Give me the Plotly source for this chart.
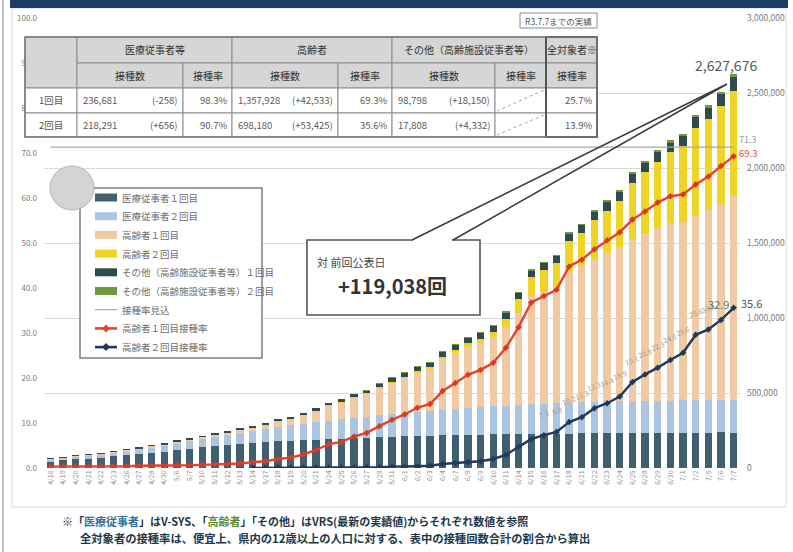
import plotly.graph_objects as go

W, H = 793, 552

# ---------------- data ----------------
dates = ["4/16", "4/19", "4/20", "4/21", "4/22", "4/23", "4/26", "4/27", "4/28", "4/30",
         "5/6", "5/7", "5/10", "5/11", "5/12", "5/13", "5/14", "5/17", "5/18", "5/19",
         "5/20", "5/21", "5/24", "5/25", "5/26", "5/27", "5/28", "5/31", "6/1", "6/2",
         "6/3", "6/4", "6/7", "6/8", "6/9", "6/10", "6/11", "6/14", "6/15", "6/16",
         "6/17", "6/18", "6/21", "6/22", "6/23", "6/24", "6/25", "6/28", "6/29", "6/30",
         "7/1", "7/2", "7/5", "7/6", "7/7"]

medical_1st = [45000, 52000, 58000, 63000, 68000, 78000, 86000, 92000, 103000, 110000,
               122000, 130000, 138000, 146000, 152000, 160000, 166000, 172000, 178000, 182000,
               187000, 190000, 193000, 196000, 199000, 202000, 205000, 208000, 211000, 213000,
               215000, 217000, 219000, 221000, 222000, 224000, 225000, 226000, 227000, 228000,
               229000, 230000, 231000, 232000, 232500, 233000, 233500, 234000, 234500, 235000,
               235500, 236000, 236400, 236939, 236681]
medical_2nd = [12000, 14000, 17000, 19000, 21000, 24000, 27000, 30000, 34000, 38000,
               44000, 50000, 56000, 62000, 68000, 75000, 80000, 88000, 96000, 102000,
               108000, 116000, 122000, 128000, 134000, 140000, 146000, 152000, 158000, 163000,
               168000, 172000, 176000, 180000, 184000, 188000, 191000, 194000, 197000, 200000,
               202000, 204000, 206000, 208000, 210000, 211000, 212000, 213000, 214000, 215000,
               216000, 216500, 217000, 217635, 218291]
elderly_1st = [5900, 5900, 6000, 7800, 7900, 8000, 8100, 9800, 9900, 10000,
               11800, 11900, 13700, 15700, 17600, 19600, 25500, 29400, 39200, 45100,
               58800, 78400, 103900, 113700, 137200, 152900, 182300, 209700, 233200, 262600,
               278300, 335100, 370400, 405700, 427200, 458600, 523300, 613400, 721200, 748600,
               776000, 878000, 907400, 952500, 991600, 1026900, 1081800, 1117100, 1156300, 1183700,
               1191500, 1234700, 1269900, 1315395, 1357928]
elderly_2nd = [0, 0, 0, 0, 0, 0, 0, 0, 0, 0,
               0, 0, 0, 0, 0, 0, 200, 400, 600, 1000,
               1400, 1900, 2000, 2100, 2900, 3800, 3900, 5800, 5900, 7800,
               9800, 17600, 21600, 25500, 29400, 39200, 56900, 92200, 125500, 143200,
               156900, 200000, 221600, 260800, 282400, 311800, 374600, 407900, 437300, 470600,
               502000, 580500, 604000, 644755, 698180]
other_1st = [1000, 1000, 1000, 2000, 2000, 2000, 3000, 3000, 3000, 4000,
             4000, 5000, 5000, 6000, 6000, 7000, 8000, 9000, 10000, 11000,
             12000, 13000, 15000, 17000, 19000, 21000, 23000, 25000, 27000, 29000,
             31000, 33000, 35000, 37000, 39000, 41000, 43000, 45000, 47000, 49000,
             51000, 53000, 55000, 57000, 59000, 61000, 63000, 65000, 67000, 69000,
             72000, 75000, 78000, 80648, 98798]
other_2nd = [0, 0, 0, 0, 0, 0, 0, 0, 0, 0,
             0, 0, 0, 0, 0, 0, 0, 0, 0, 0,
             0, 0, 0, 0, 0, 100, 200, 300, 400, 500,
             600, 800, 1000, 1200, 1400, 1700, 2000, 2400, 2800, 3200,
             3700, 4200, 4800, 5400, 6000, 6800, 7600, 8500, 9500, 10500,
             11600, 12300, 13000, 13476, 17808]

rate_1st = [0.3, 0.3, 0.3, 0.4, 0.4, 0.4, 0.4, 0.5, 0.5, 0.5,
            0.6, 0.6, 0.7, 0.8, 0.9, 1.0, 1.3, 1.5, 2.0, 2.3,
            3.0, 4.0, 5.3, 5.8, 7.0, 7.8, 9.3, 10.7, 11.9, 13.4,
            14.2, 17.1, 18.9, 20.7, 21.8, 23.4, 26.7, 31.3, 36.8, 38.2,
            39.6, 44.8, 46.3, 48.6, 50.6, 52.4, 55.2, 57.0, 59.0, 60.4,
            60.8, 63.0, 64.8, 67.1, 69.3]
rate_2nd = [None] * 16 + [0.01, 0.02, 0.03, 0.05, 0.07, 0.1, 0.1, 0.1, 0.15, 0.2,
                          0.2, 0.3, 0.3, 0.4, 0.5, 0.9, 1.1, 1.3, 1.5, 2.0,
                          2.9, 4.7, 6.4, 7.3, 8.0, 10.2, 11.3, 13.3, 14.4, 15.9,
                          19.1, 20.8, 22.3, 24.0, 25.6, 29.6, 30.8, 32.9, 35.6]
rate_target = [71.3] * 55

total_label = "2,627,676"
delta_label = "+119,038回"

right_ticks = [0, 500000, 1000000, 1500000, 2000000, 2500000, 3000000]
right_tick_text = ["0", "500,000", "1,000,000", "1,500,000", "2,000,000", "2,500,000", "3,000,000"]
left_ticks = [0, 10, 20, 30, 40, 50, 60, 70, 80, 90, 100]
left_tick_text = ["0.0", "10.0", "20.0", "30.0", "40.0", "50.0", "60.0", "70.0", "80.0", "90.0", "100.0"]

table_header1 = ["医療従事者等", "高齢者", "その他（高齢施設従事者等）", "全対象者※"]
table_header2 = ["接種数", "接種率", "接種数", "接種率", "接種数", "接種率", "接種率"]
row_labels = ["1回目", "2回目"]
table_counts = [["236,681", "1,357,928", "98,798"], ["218,291", "698,180", "17,808"]]
table_deltas = [["(-258)", "(+42,533)", "(+18,150)"], ["(+656)", "(+53,425)", "(+4,332)"]]
table_rates = [["98.3%", "69.3%", "", "25.7%"], ["90.7%", "35.6%", "", "13.9%"]]

# ---------------- helpers (pixel -> paper) ----------------
def X(p):
    return p / W

def Y(p):
    return 1 - p / H

FONT = "Noto Sans CJK JP, Noto Sans, sans-serif"

fig = go.Figure()

bar_series = [
    ("医療従事者１回目", medical_1st, "#41606f"),
    ("医療従事者２回目", medical_2nd, "#aac4e2"),
    ("高齢者１回目", elderly_1st, "#f1c9a2"),
    ("高齢者２回目", elderly_2nd, "#efd327"),
    ("その他（高齢施設従事者等）１回目", other_1st, "#2f4b4f"),
    ("その他（高齢施設従事者等）２回目", other_2nd, "#6c9a3d"),
]
for name, vals, col in bar_series:
    fig.add_trace(go.Bar(x=dates, y=vals, name=name, yaxis="y",
                         marker=dict(color=col, line=dict(width=0))))

fig.add_trace(go.Scatter(x=dates, y=rate_target, name="接種率見込", yaxis="y2",
                         mode="lines", line=dict(color="#a9a9a9", width=1.2)))
fig.add_trace(go.Scatter(x=dates, y=rate_1st, name="高齢者１回目接種率", yaxis="y2",
                         mode="lines+markers", line=dict(color="#e6432c", width=2.4),
                         marker=dict(color="#d93a26", size=5, symbol="diamond")))
fig.add_trace(go.Scatter(x=dates, y=rate_2nd, name="高齢者２回目接種率", yaxis="y2",
                         mode="lines+markers",
                         line=dict(color="#1f3a5c", width=2.4),
                         marker=dict(color="#1f3a5c", size=5, symbol="diamond")))

# ---------------- shapes ----------------
shapes = []
def rect(x0, y0, x1, y1, fill=None, line="#8c8c8c", lw=1.0, dash=None, layer="above"):
    d = dict(type="rect", xref="paper", yref="paper", x0=X(x0), x1=X(x1), y0=Y(y1), y1=Y(y0),
             line=dict(color=line, width=lw), layer=layer)
    if dash:
        d["line"]["dash"] = dash
    if fill:
        d["fillcolor"] = fill
    if line is None:
        d["line"] = dict(width=0)
    return d

def seg(x0, y0, x1, y1, color="#8c8c8c", lw=1.0, dash=None):
    d = dict(type="line", xref="paper", yref="paper", x0=X(x0), x1=X(x1), y0=Y(y0), y1=Y(y1),
             line=dict(color=color, width=lw), layer="above")
    if dash:
        d["line"]["dash"] = dash
    return d

# page frame + banner
shapes.append(rect(12, 8, 786, 507, fill=None, line="#d8d8d8", lw=1, layer="below"))
shapes.append(rect(10, 0, 788, 8, fill="#1d3c63", line=None))
shapes.append(seg(3, 0, 3, 552, color="#9a9a9a", lw=1.2))

# table
cx = [25, 77, 183, 232, 338, 392, 495, 546, 597]
ry = [37, 63, 88, 113, 137]
hdr_fill = "#d6d6d6"
shapes.append(rect(cx[0], ry[0], cx[8], ry[4], fill="white", line=None))
shapes.append(rect(cx[0], ry[0], cx[1], ry[2], fill=hdr_fill))
shapes.append(rect(cx[1], ry[0], cx[3], ry[1], fill=hdr_fill))
shapes.append(rect(cx[3], ry[0], cx[5], ry[1], fill=hdr_fill))
shapes.append(rect(cx[5], ry[0], cx[7], ry[1], fill=hdr_fill))
shapes.append(rect(cx[7], ry[0], cx[8], ry[1], fill=hdr_fill))
for k in range(7):
    shapes.append(rect(cx[k + 1], ry[1], cx[k + 2], ry[2], fill=hdr_fill))
for r in range(2):
    for k in range(8):
        shapes.append(rect(cx[k], ry[2 + r], cx[k + 1], ry[3 + r], fill="white"))
    shapes.append(seg(cx[6] + 2, ry[3 + r] - 2, cx[7] - 2, ry[2 + r] + 2, color="#8c8c8c", lw=0.8, dash="dot"))
shapes.append(rect(cx[7], ry[0], cx[8], ry[4], fill=None, line="#555555", lw=2))
shapes.append(rect(cx[0], ry[0], cx[8], ry[4], fill=None, line="#777777", lw=1.5))
# "R3.7.7までの実績" box
shapes.append(rect(520, 13, 597, 28, fill="white", line="#8c8c8c", lw=1))

# legend frame
shapes.append(rect(80, 188, 262, 358, fill="white", line="#7f7f7f", lw=1.5))

# callout
shapes.append(rect(307, 240, 480, 315, fill="white", line="#555555", lw=1.6))
shapes.append(seg(413, 240, 452, 240, color="white", lw=2.5))
shapes.append(dict(type="path", xref="paper", yref="paper",
                   path=f"M {X(412)},{Y(240)} L {X(727)},{Y(84)} L {X(453)},{Y(240)}",
                   line=dict(color="#3c3c3c", width=1.6), layer="above"))

# ---------------- annotations ----------------
ann = []
def txt(x, y, s, size=9, color="#555555", xanchor="center", bold=False, yanchor="middle"):
    ann.append(dict(x=X(x), y=Y(y), xref="paper", yref="paper", text=(f"<b>{s}</b>" if bold else s),
                    showarrow=False, xanchor=xanchor, yanchor=yanchor,
                    font=dict(size=size, color=color, family=FONT)))

# manual legend (symbols + texts)
legend_items = [(name, "bar", col) for name, _, col in bar_series] + [
    ("接種率見込", "thin", "#a9a9a9"),
    ("高齢者１回目接種率", "line", "#e6432c"),
    ("高齢者２回目接種率", "line", "#1f3a5c"),
]
for k, (name, kind, col) in enumerate(legend_items):
    yc = 197.5 + 18.7 * k
    if kind == "bar":
        shapes.append(rect(95, yc - 4, 117, yc + 4, fill=col, line=None))
    elif kind == "thin":
        shapes.append(seg(95, yc, 117, yc, color=col, lw=1.2))
    else:
        shapes.append(seg(95, yc, 117, yc, color=col, lw=2.6))
        shapes.append(dict(type="path", xref="paper", yref="paper",
                           path=f"M {X(106)},{Y(yc - 4)} L {X(110)},{Y(yc)} L {X(106)},{Y(yc + 4)} L {X(102)},{Y(yc)} Z",
                           fillcolor=col, line=dict(width=0), layer="above"))
    txt(120, yc, name, 9.5, "#6e6e6e", xanchor="left")

# grey circle on top of the legend frame corner
shapes.append(dict(type="circle", xref="paper", yref="paper", x0=X(50), x1=X(94), y0=Y(210), y1=Y(166),
                   fillcolor="#d4d4d4", line=dict(color="#b3b3b3", width=1), layer="above"))

txt((cx[1] + cx[3]) / 2, (ry[0] + ry[1]) / 2, table_header1[0], 10, "#333333")
txt((cx[3] + cx[5]) / 2, (ry[0] + ry[1]) / 2, table_header1[1], 10, "#333333")
txt((cx[5] + cx[7]) / 2, (ry[0] + ry[1]) / 2, table_header1[2], 10, "#333333")
txt((cx[7] + cx[8]) / 2, (ry[0] + ry[1]) / 2, table_header1[3], 10, "#333333")
for k in range(7):
    txt((cx[k + 1] + cx[k + 2]) / 2, (ry[1] + ry[2]) / 2, table_header2[k], 10, "#333333")
for r in range(2):
    yc = (ry[2 + r] + ry[3 + r]) / 2
    txt((cx[0] + cx[1]) / 2, yc, row_labels[r], 9.5, "#555555")
    for g, (c0, c1) in enumerate([(cx[1], cx[2]), (cx[3], cx[4]), (cx[5], cx[6])]):
        txt(c0 + 4, yc, table_counts[r][g], 9.5, "#5a5a5a", xanchor="left")
        txt(c1 - 3, yc, table_deltas[r][g], 9.5, "#5a5a5a", xanchor="right")
    for k, c1 in enumerate([cx[3], cx[5], cx[7], cx[8]]):
        if table_rates[r][k]:
            txt(c1 - 3, yc, table_rates[r][k], 9.5, "#5a5a5a", xanchor="right")
txt(558, 20.5, "R3.7.7までの実績", 8.5, "#555555")

txt(315, 262, "対 前回公表日", 11, "#444444", xanchor="left")
txt(336, 285, delta_label, 20, "#333333", xanchor="left", bold=True)

foot1 = ("※「<span style='color:#2f6fa0'>医療従事者</span>」はV-SYS、「<span style='color:#5f8a2e'>高齢者</span>」"
         "「その他」はVRS(最新の実績値)からそれぞれ数値を参照")
foot2 = "全対象者の接種率は、便宜上、県内の12歳以上の人口に対する、表中の接種回数合計の割合から算出"
txt(60, 521, foot1, 11, "#22384a", xanchor="left", bold=True)
txt(78, 538, foot2, 11.3, "#22384a", xanchor="left", bold=True)

# faint data labels above the 2nd-dose rate line
for i in range(39, 53):
    ann.append(dict(x=dates[i], y=rate_2nd[i], xref="x", yref="y2", text=f"{rate_2nd[i]:.1f}",
                    showarrow=False, yanchor="bottom", yshift=12, textangle=-20,
                    font=dict(size=7, color="#a0a0a0", family=FONT)))

totals_last = medical_1st[-1] + medical_2nd[-1] + elderly_1st[-1] + elderly_2nd[-1] + other_1st[-1] + other_2nd[-1]
ann.append(dict(x=dates[-1], y=totals_last, xref="x", yref="y", text=total_label, showarrow=False,
                yanchor="bottom", xshift=-8, yshift=-3, font=dict(size=14, color="#4d5c5a", family=FONT)))
ann.append(dict(x=dates[-1], y=rate_1st[-1], xref="x", yref="y2", text=f"{rate_1st[-1]:.1f}",
                showarrow=False, xanchor="left", xshift=4, yshift=3, borderpad=0,
                font=dict(size=9.5, color="#d9503a", family=FONT)))
ann.append(dict(x=dates[-1], y=rate_target[-1], xref="x", yref="y2", text=f"{rate_target[-1]:.1f}",
                showarrow=False, xanchor="left", xshift=4, yshift=8, borderpad=0,
                font=dict(size=9, color="#9a9a9a", family=FONT)))
ann.append(dict(x=dates[-2], y=rate_2nd[-2], xref="x", yref="y2", text=f"{rate_2nd[-2]:.1f}",
                showarrow=False, yanchor="bottom", xshift=-3, yshift=6, font=dict(size=11, color="#4f7a55", family=FONT)))
ann.append(dict(x=dates[-1], y=rate_2nd[-1], xref="x", yref="y2", text=f"{rate_2nd[-1]:.1f}",
                showarrow=False, xanchor="left", xshift=5, yshift=5, font=dict(size=11, color="#3f5a66", family=FONT)))

fig.update_layout(
    width=W, height=H, margin=dict(l=0, r=0, t=0, b=0),
    paper_bgcolor="white", plot_bgcolor="rgba(0,0,0,0)",
    barmode="stack", bargap=0.42,
    font=dict(family=FONT, color="#666666"),
    showlegend=False,
    xaxis=dict(domain=[X(44), X(740)], type="category", range=[-0.5, len(dates) - 0.5],
               tickmode="array", tickvals=dates, ticktext=dates,
               tickangle=-90, tickfont=dict(size=7, color="#8f8f8f"), showgrid=False, showline=False,
               ticks="", automargin=False),
    yaxis=dict(domain=[Y(468), Y(18)], side="right", range=[0, 3000000], tickmode="array",
               tickvals=right_ticks, ticktext=right_tick_text, showgrid=True, gridcolor="#d9d9d9",
               gridwidth=1, zeroline=False, showline=False, tickfont=dict(size=8.5, color="#7a7a7a"),
               ticklabelstandoff=6, automargin=False),
    yaxis2=dict(overlaying="y", side="left", range=[0, 100], tickmode="array", tickvals=left_ticks,
                ticktext=left_tick_text, showgrid=False, zeroline=False, showline=False,
                ticklabelstandoff=6,
                tickfont=dict(size=8, color="#7a7a7a"), automargin=False),
    shapes=shapes, annotations=ann,
)

fig.write_html("out.html", config={"displayModeBar": False},
               post_script="document.body.style.margin='0';")
